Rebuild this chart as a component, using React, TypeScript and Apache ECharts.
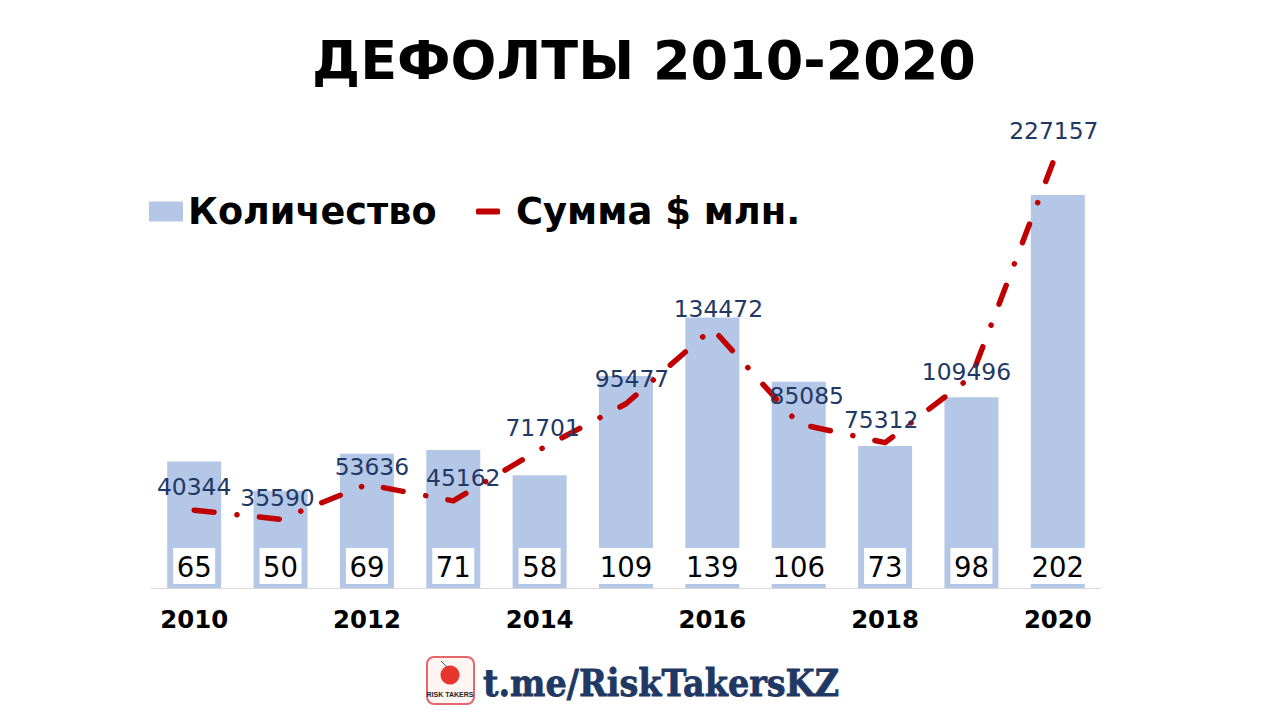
import React, { useEffect, useRef } from "react";
import * as echarts from "echarts";

const years = ["2010", "2011", "2012", "2013", "2014", "2015", "2016", "2017", "2018", "2019", "2020"];
const counts = [65, 50, 69, 71, 58, 109, 139, 106, 73, 98, 202];
const amounts = [40344, 35590, 53636, 45162, 71701, 95477, 134472, 85085, 75312, 109496, 227157];
const amountLabelNudges = [[0, -23], [-3, -21], [5, -17], [10, -23], [3, -22], [6, -25], [6, -20], [8, -28], [-4, -23], [-5, -5], [-4, -19]];

const SANS = "'DejaVu Sans', Verdana, sans-serif";
const COUNT_NAME = "Количество";
const AMOUNT_NAME = "Сумма $ млн.";

export default function App() {
  const ref = useRef<HTMLDivElement>(null);
  useEffect(() => {
    const chart = echarts.init(ref.current!, undefined, { renderer: "svg" });
    chart.setOption({
      animation: false,
      backgroundColor: "#ffffff",
      title: {
        text: "ДЕФОЛТЫ 2010-2020",
        left: 639,
        top: 28,
        textAlign: "center",
        textStyle: { fontFamily: SANS, fontWeight: "bold", fontSize: 54, color: "#000000" },
      },
      legend: [
        {
          data: [{ name: COUNT_NAME, icon: "rect" }],
          left: 144,
          top: 188,
          itemWidth: 34,
          itemHeight: 20,
          selectedMode: false,
          textStyle: { fontFamily: SANS, fontWeight: "bold", fontSize: 36.6, color: "#000000" },
        },
        {
          data: [{ name: AMOUNT_NAME, icon: "roundRect", itemStyle: { color: "#C00000", opacity: 1 } }],
          left: 471,
          top: 188,
          itemWidth: 24,
          itemHeight: 6,
          selectedMode: false,
          textStyle: { fontFamily: SANS, fontWeight: "bold", fontSize: 36.9, color: "#000000", padding: [0, 0, 0, 11] },
        },
      ],
      grid: { left: 151, right: 179, top: 101.7, bottom: 132 },
      xAxis: {
        type: "category",
        data: years,
        axisLine: { lineStyle: { color: "#D9D9D9", width: 1 } },
        axisTick: { show: false },
        axisLabel: { fontFamily: SANS, fontWeight: "bold", fontSize: 24.4, color: "#000000", margin: 19 },
      },
      yAxis: [
        { type: "value", min: 0, max: 250, show: false },
        { type: "value", min: 0, max: 252000, show: false },
      ],
      series: [
        {
          name: COUNT_NAME,
          type: "bar",
          data: counts,
          barWidth: 54,
          itemStyle: { color: "#B4C7E7" },
          label: {
            show: true,
            position: "insideBottom",
            distance: 4,
            fontFamily: SANS,
            fontSize: 27.5,
            color: "#000000",
            backgroundColor: "#ffffff",
            padding: [5, 3.5, 3, 3.5],
          },
          z: 2,
        },
        {
          name: AMOUNT_NAME,
          type: "line",
          yAxisIndex: 1,
          data: amounts.map((value, i) => ({
            value,
            label: { offset: amountLabelNudges[i] },
          })),
          symbol: "circle",
          symbolSize: 1,
          showSymbol: true,
          itemStyle: { color: "#C00000", opacity: 0 },
          lineStyle: { color: "#C00000", width: 5.5, type: [20, 23, 0.1, 22.5], cap: "round", join: "round" },
          label: {
            show: true,
            position: "inside",
            align: "center",
            verticalAlign: "middle",
            fontFamily: SANS,
            fontSize: 23.4,
            color: "#1F3864",
            opacity: 1,
          },
          z: 3,
        },
      ],
      graphic: [
        { type: "rect", shape: { x: 427, y: 657, width: 47, height: 47, r: 7 }, style: { fill: "#FFF6F4", stroke: "#E4676B", lineWidth: 2 } },
        { type: "circle", shape: { cx: 450, cy: 675, r: 9.5 }, style: { fill: "#E8352E" } },
        { type: "line", shape: { x1: 447, y1: 667, x2: 441, y2: 661 }, style: { stroke: "#555555", lineWidth: 1 } },
        { type: "text", x: 450, y: 694, style: { text: "RISK TAKERS", fontFamily: "'Liberation Sans', sans-serif", fontWeight: "bold", fontSize: 7, fill: "#222222", textAlign: "center", textVerticalAlign: "middle" } },
        { type: "text", x: 483, y: 682, scaleX: 0.88, style: { text: "t.me/RiskTakersKZ", fontFamily: "'DejaVu Serif', serif", fontWeight: "bold", fontSize: 38, fill: "#1F3864", stroke: "#1F3864", lineWidth: 0.8, textAlign: "left", textVerticalAlign: "middle", shadowBlur: 3, shadowColor: "rgba(31,56,100,0.45)", shadowOffsetX: 1, shadowOffsetY: 1 } },
      ],
    });
    return () => chart.dispose();
  }, []);
  return <div ref={ref} style={{ position: "fixed", left: 0, top: 0, width: 1280, height: 720 }} />;
}
